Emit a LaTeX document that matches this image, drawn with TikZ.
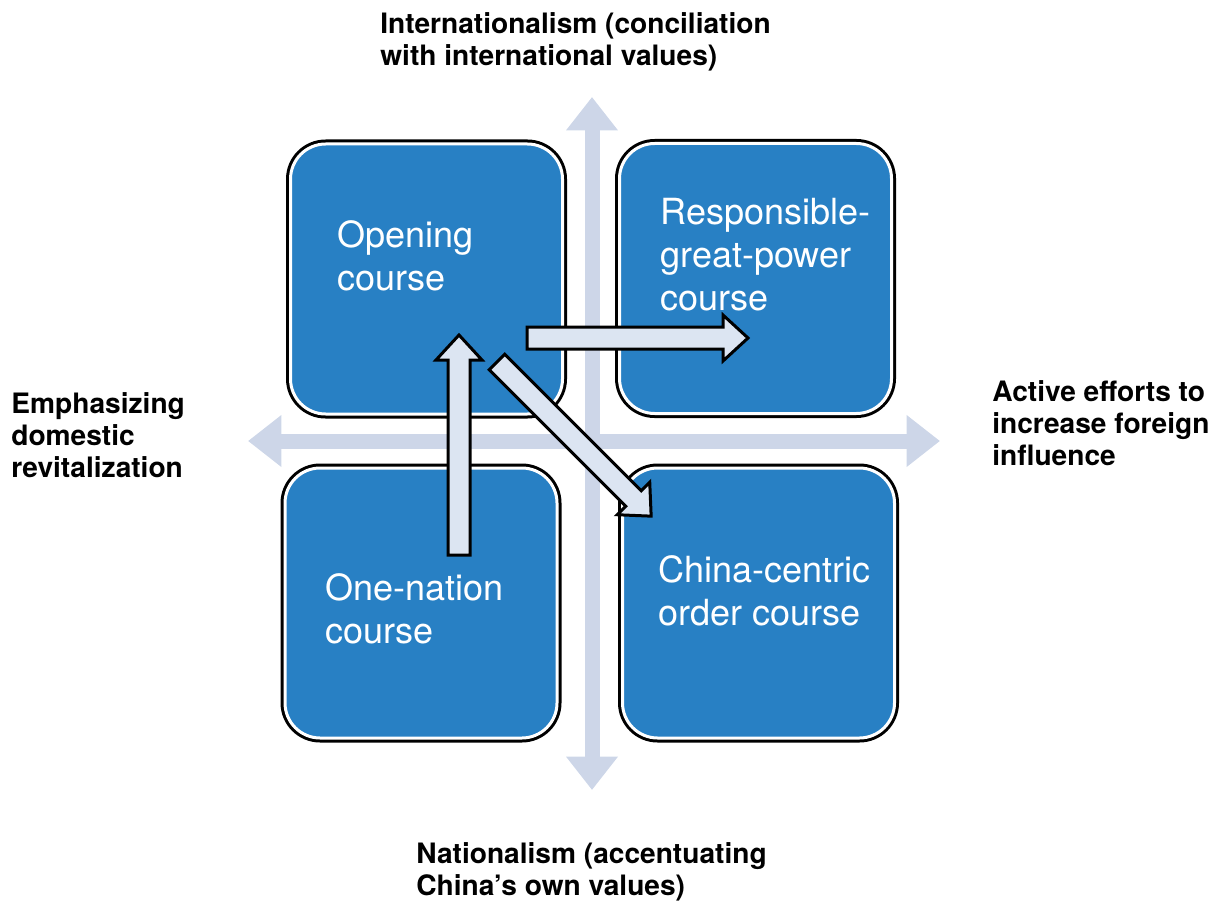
\documentclass[tikz,border=0pt]{standalone}
\usepackage{fontspec}
\setmainfont{TeX Gyre Heros}
\usetikzlibrary{arrows.meta}

\newlength\pix
\setlength\pix{0.02cm}

\definecolor{courseblue}{RGB}{40,128,196}
\definecolor{axisblue}{RGB}{205,214,232}
\definecolor{flowfill}{RGB}{220,229,242}

\tikzset{
  course/.style={rectangle, rounded corners=20pt, minimum width=272\pix,
    minimum height=270\pix, fill=courseblue, draw=white, line width=3\pix,
    preaction={draw=black, line width=9\pix}},
  coursetext/.style={anchor=north west, inner sep=0pt, align=left,
    text=white, font=\fontsize{20.5}{24.5}\selectfont},
  pole/.style={anchor=north west, inner sep=0pt, align=left,
    font=\bfseries\fontsize{16}{18.2}\selectfont},
  axis/.style={draw=axisblue, line width=15\pix,
    {Triangle[width=28.3pt,length=19pt]}-{Triangle[width=28.3pt,length=19pt]}},
  flowline/.style={draw=black, line width=3\pix, fill=flowfill, line join=miter},
  pics/flow/.style={code={
    \path[flowline] (0,-11) -- (#1-25,-11) -- (#1-25,-23) -- (#1,0)
      -- (#1-25,23) -- (#1-25,11) -- (0,11) -- cycle;}}
}

\begin{document}
\begin{tikzpicture}[x=\pix, y=-\pix]
  \useasboundingbox (0,0) rectangle (1219,902);
  \coordinate (N) at (592,97);
  \coordinate (S) at (592,790);
  \coordinate (W) at (248,441);
  \coordinate (E) at (940,441);
  \draw[axis] (S) -- (N);
  \draw[axis] (W) -- (E);

  \node[course] (open) at (426.5,279)   {};
  \node[course] (resp) at (755.5,278.5) {};
  \node[course] (one)  at (421,603)     {};
  \node[course] (cent) at (758.5,603)   {};

  \node[coursetext] (opentxt) at (337,220) {Opening\\course};
  \node[coursetext] (resptxt) at (660,198) {Responsible-\\great-power\\course};
  \node[coursetext] (onetxt)  at (325,573) {One-nation\\course};
  \node[coursetext] (centtxt) at (658,555) {China-centric\\order course};

  \node[pole] (intl) at (380,12)  {Internationalism (conciliation\\with international values)};
  \node[pole] (dom)  at (11,392)  {Emphasizing\\domestic\\revitalization};
  \node[pole] (act)  at (992,380) {Active efforts to\\increase foreign\\influence};
  \node[pole] (nat)  at (416,842) {Nationalism (accentuating\\China’s own values)};

  \coordinate (up0)    at (459,555);
  \coordinate (right0) at (527,338);
  \coordinate (diag0)  at (497,362);
  \pic[rotate=90]  at (up0)    {flow=220};
  \pic             at (right0) {flow=221};
  \pic[rotate=-45] at (diag0)  {flow=218};
\end{tikzpicture}
\end{document}
